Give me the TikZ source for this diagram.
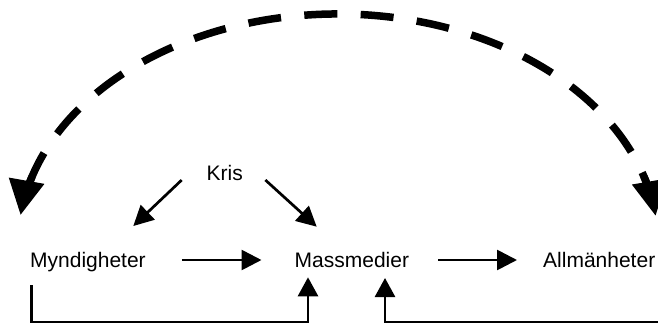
\documentclass[tikz,border=0pt]{standalone}
\usepackage{fontspec}
\setmainfont{Liberation Sans}
\usetikzlibrary{arrows.meta,calc}

\begin{document}
\begin{tikzpicture}[x=1pt,y=-1pt,
  lbl/.style={inner sep=0pt, anchor=base west, font=\fontsize{21}{25}\selectfont},
  link/.style={line width=2.7pt, -{Triangle[length=20pt,width=20pt]}},
  loopback/.style={line width=2.7pt, -{Triangle[length=19pt,width=20pt]}},
  wide/.style={line width=7.5pt, dash pattern=on 33pt off 23.4pt},
  widetip/.style={line width=7.5pt, -{Triangle[length=35pt,width=34pt]}},
  oval/.style={x radius=320, y radius=230}
]
\useasboundingbox (0,0) rectangle (658,327);

% actors
\node[lbl] (myn)  at (30,267)    {Myndigheter};
\node[lbl] (mas)  at (294.5,267) {Massmedier};
\node[lbl] (all)  at (543,267)   {Allmänheter};
\node[lbl] (kris) at (206.5,180) {Kris};

% main flow
\draw[link] ($(myn.base east)+(36,-7)$) -- ($(mas.base west)+(-33,-7)$);
\draw[link] ($(mas.base east)+(29,-7)$) -- ($(all.base west)+(-26,-7)$);

% the crisis affects both
\draw[link] ($(kris.base west)+(-24.8,0)$) -- ($(myn.base west)+(103.3,-41)$);
\draw[link] ($(kris.base east)+(22.3,0)$) -- ($(mas.base west)+(22.2,-40.3)$);

% feedback into the media
\draw[loopback] ($(myn.base west)+(1.7,18)$) |- ($(mas.base west)+(13.5,55)$)
  -- ($(mas.base west)+(13.5,10.3)$);
\draw[loopback] ($(all.base east)+(20,18)$) |- ($(mas.base west)+(90.5,55)$)
  -- ($(mas.base west)+(90.5,11)$);

% indirect link between authorities and the public: a dashed half oval
\coordinate (hub) at ($(mas.base west)+(43.5,-23)$);
\draw[wide] ($(hub)+(195.46:320 and 230)$)
  arc[start angle=195.46, end angle=349.3, oval];
\draw[widetip] ($(hub)+(197:320 and 230)$)
  arc[start angle=197, end angle=187.2, oval];
\draw[widetip] ($(hub)+(343:320 and 230)$)
  arc[start angle=343, end angle=353, oval];
\end{tikzpicture}
\end{document}
